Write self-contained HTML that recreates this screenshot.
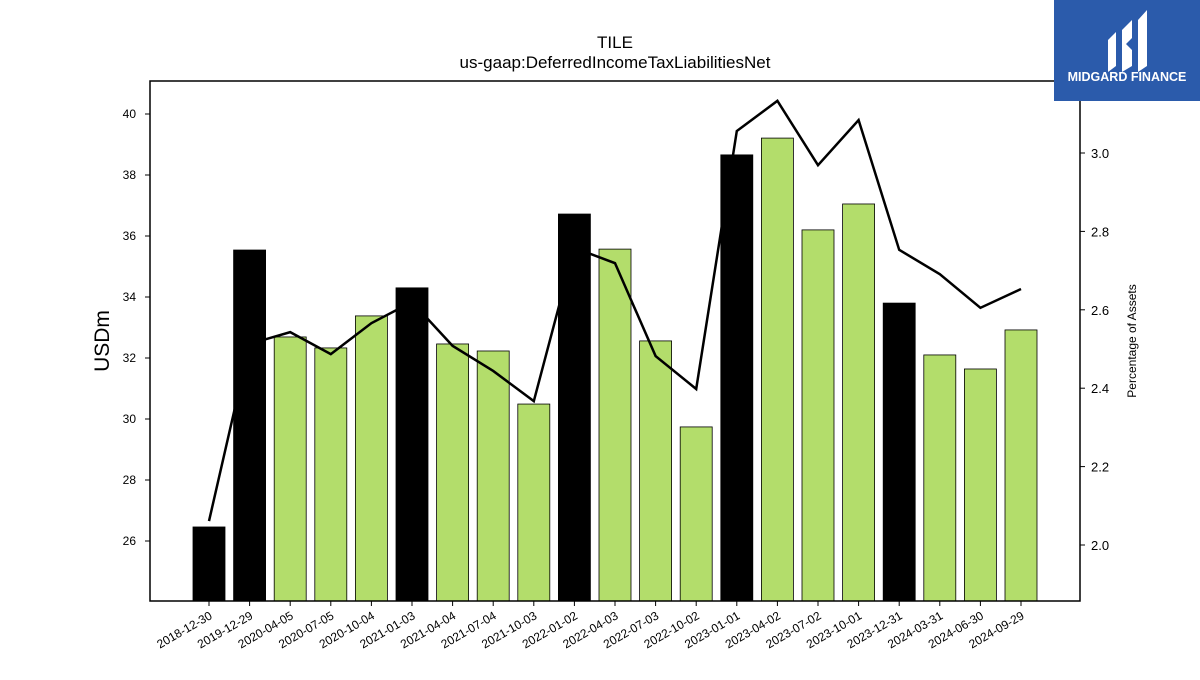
<!DOCTYPE html>
<html><head><meta charset="utf-8"><style>
body{margin:0;background:#fff;width:1200px;height:675px;overflow:hidden;font-family:"Liberation Sans",sans-serif}
</style></head><body>
<svg id="chart" width="1200" height="675" xmlns="http://www.w3.org/2000/svg" font-family="Liberation Sans, sans-serif">
<text x="615" y="48" text-anchor="middle" font-size="17">TILE</text>
<text x="615" y="68" text-anchor="middle" font-size="17">us-gaap:DeferredIncomeTaxLiabilitiesNet</text>
<g id="bars"></g>
<g id="line"></g>
<rect x="150" y="81" width="930" height="520" fill="none" stroke="#000" stroke-width="1.5"/>
<g id="xticks"></g>
<g id="lticks"></g>
<g id="rticks"></g>
<text transform="translate(109,341) rotate(-90)" text-anchor="middle" font-size="21">USDm</text>
<text transform="translate(1136,341) rotate(-90)" text-anchor="middle" font-size="12">Percentage of Assets</text>
<g>
<rect x="1054" y="0" width="146" height="101" fill="#2b5bab"/>
<path d="M1108 40 L1116 32 L1116 66 L1108 72 Z M1122 30 L1132 20 L1132 38 L1126 44 L1132 50 L1132 66 L1122 72 Z M1138 20 L1147 10 L1147 66 L1138 72 Z" fill="#fff"/>
<text x="1127" y="81" text-anchor="middle" font-size="12.5" font-weight="bold" fill="#fff">MIDGARD FINANCE</text>
</g>
</svg>
<script>
const categories=["2018-12-30","2019-12-29","2020-04-05","2020-07-05","2020-10-04","2021-01-03","2021-04-04","2021-07-04","2021-10-03","2022-01-02","2022-04-03","2022-07-03","2022-10-02","2023-01-01","2023-04-02","2023-07-02","2023-10-01","2023-12-31","2024-03-31","2024-06-30","2024-09-29"];
const barValues=[26.46,35.54,32.69,32.33,33.38,34.30,32.46,32.23,30.49,36.72,35.57,32.56,29.74,38.66,39.21,36.20,37.05,33.80,32.10,31.64,32.92];
const pctValues=[2.061,2.513,2.543,2.487,2.566,2.62,2.508,2.444,2.367,2.758,2.719,2.482,2.398,3.056,3.133,2.969,3.084,2.753,2.691,2.605,2.653];
const annual=[true,true,false,false,false,true,false,false,false,true,false,false,false,true,false,false,false,true,false,false,false];
const leftTicks=[26,28,30,32,34,36,38,40];
const rightTicks=[2.0,2.2,2.4,2.6,2.8,3.0];
const NS="http://www.w3.org/2000/svg";
const x=i=>209+i*40.6;
const yL=v=>541-(v-26)*30.5;
const yR=v=>545-(v-2.0)*392;
const bars=document.getElementById('bars');
categories.forEach((c,i)=>{
 const r=document.createElementNS(NS,'rect');
 
 
 r.setAttribute('x',x(i)-16);r.setAttribute('width',32);
 r.setAttribute('y',yL(barValues[i]));r.setAttribute('height',601-yL(barValues[i]));
 r.setAttribute('fill',annual[i]?'#000':'#b3dd6b');r.setAttribute('stroke','#000');r.setAttribute('stroke-width','0.8');
 bars.appendChild(r);
});
const pl=document.createElementNS(NS,'polyline');


pl.setAttribute('points',pctValues.map((v,i)=>x(i)+','+yR(v)).join(' '));
pl.setAttribute('fill','none');pl.setAttribute('stroke','#000');pl.setAttribute('stroke-width','2.5');
document.getElementById('line').appendChild(pl);
const xt=document.getElementById('xticks');
categories.forEach((c,i)=>{
 const l=document.createElementNS(NS,'line');
 
 
 l.setAttribute('x1',x(i));l.setAttribute('x2',x(i));l.setAttribute('y1',601);l.setAttribute('y2',606);l.setAttribute('stroke','#000');
 xt.appendChild(l);
 const t=document.createElementNS(NS,'text');
 
 
 t.setAttribute('transform','translate('+(x(i)+4)+',618) rotate(-30)');
 t.setAttribute('text-anchor','end');t.setAttribute('font-size','12');
 t.textContent=c;xt.appendChild(t);
});
const lt=document.getElementById('lticks');
leftTicks.forEach(v=>{
 const l=document.createElementNS(NS,'line');
 
 
 l.setAttribute('x1',145);l.setAttribute('x2',150);l.setAttribute('y1',yL(v));l.setAttribute('y2',yL(v));l.setAttribute('stroke','#000');
 lt.appendChild(l);
 const t=document.createElementNS(NS,'text');
 
 
 t.setAttribute('x',136);t.setAttribute('y',yL(v)+4);t.setAttribute('text-anchor','end');t.setAttribute('font-size','12');
 t.textContent=v;lt.appendChild(t);
});
const rt=document.getElementById('rticks');
rightTicks.forEach(v=>{
 const l=document.createElementNS(NS,'line');
 
 
 l.setAttribute('x1',1080);l.setAttribute('x2',1085);l.setAttribute('y1',yR(v));l.setAttribute('y2',yR(v));l.setAttribute('stroke','#000');
 rt.appendChild(l);
 const t=document.createElementNS(NS,'text');
 
 
 t.setAttribute('x',1091);t.setAttribute('y',yR(v)+5);t.setAttribute('font-size','13');
 t.textContent=v.toFixed(1);rt.appendChild(t);
});
</script>
</body></html>
